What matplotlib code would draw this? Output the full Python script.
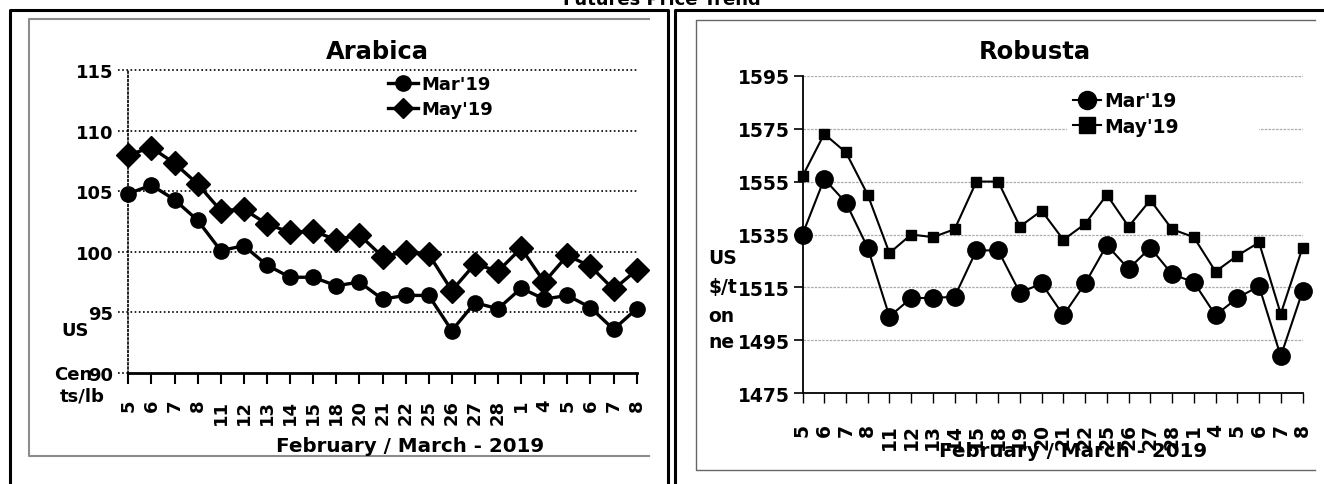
import matplotlib
matplotlib.use("Agg")
import matplotlib.pyplot as plt
from matplotlib.lines import Line2D
import numpy as np

W, H = 1324, 485

arabica_dates = ["5", "6", "7", "8", "11", "12", "13", "14", "15", "18", "20", "21",
                 "22", "25", "26", "27", "28", "1", "4", "5", "6", "7", "8"]
arabica_mar = [104.8, 105.5, 104.3, 102.6, 100.1, 100.5, 98.9, 97.9, 97.9, 97.2, 97.5, 96.1,
               96.4, 96.4, 93.5, 95.8, 95.3, 97.0, 96.1, 96.4, 95.4, 93.6, 95.3]
arabica_may = [108.0, 108.6, 107.3, 105.6, 103.4, 103.5, 102.3, 101.6, 101.7, 101.0, 101.4, 99.6,
               100.0, 99.8, 96.8, 99.0, 98.4, 100.3, 97.5, 99.7, 98.8, 96.9, 98.5]
arabica_yticks = [90, 95, 100, 105, 110, 115]

robusta_dates = ["5", "6", "7", "8", "11", "12", "13", "14", "15", "18", "19", "20",
                 "21", "22", "25", "26", "27", "28", "1", "4", "5", "6", "7", "8"]
robusta_mar = [1535, 1556, 1547, 1530, 1504, 1511, 1511, 1511.5, 1529, 1529, 1513, 1516.5,
               1504.5, 1516.5, 1531, 1522, 1530, 1520, 1517, 1504.5, 1511, 1515.5, 1489, 1513.5]
robusta_may = [1557, 1573, 1566, 1550, 1528, 1535, 1534, 1537, 1555, 1555, 1538, 1544,
               1533, 1539, 1550, 1538, 1548, 1537, 1534, 1521, 1527, 1532, 1505, 1530]
robusta_yticks = [1475, 1495, 1515, 1535, 1555, 1575, 1595]

plt.rcParams.update({
    "font.family": "DejaVu Sans",
    "font.weight": "bold",
})


def fx(x):
    return x / W


def fy(y):
    return 1 - y / H


def fig_line(fig, xs, ys, **kw):
    fig.add_artist(Line2D([fx(x) for x in xs], [fy(y) for y in ys],
                          transform=fig.transFigure, **kw))


fig = plt.figure(figsize=(W / 100, H / 100), dpi=100)

# panel frames
fig_line(fig, [9.5, 9.5, 668, 668], [490, 10.5, 10.5, 490], color="black", lw=2.2)
fig_line(fig, [675, 675, 1330], [490, 10.5, 10.5], color="black", lw=2.2)
fig_line(fig, [649, 29.5, 29.5, 649], [20, 20, 457, 457], color="#8c8c8c", lw=1.5)
fig_line(fig, [1315, 696, 696, 1315], [20.5, 20.5, 471, 471], color="#666666", lw=1.0)

fig.text(0.5, fy(5), "Futures Price Trend", ha="center", va="baseline", fontsize=13)

# ---- Arabica ----
ax1 = fig.add_axes([fx(128.3), fy(374), fx(636.7 - 128.3), (374 - 71) / H])
x1 = np.arange(len(arabica_dates))
ax1.plot(x1, arabica_mar, color="black", lw=2.4, marker="o", ms=11,
         clip_on=False, zorder=3, label="Mar'19")
ax1.plot(x1, arabica_may, color="black", lw=2.4, marker="D", ms=12.5,
         clip_on=False, zorder=3, label="May'19")
ax1.set_xlim(0, len(arabica_dates) - 1)
ax1.set_ylim(90, 115)
ax1.set_yticks(arabica_yticks)
for y in arabica_yticks:
    x_end = 0 if y == 90 else 1
    ax1.axhline(y, xmin=-0.02, xmax=x_end, color="black", lw=1.2,
                ls=(0, (1, 1.5)), clip_on=False, zorder=1)
ax1.set_xticks(x1)
ax1.set_xticklabels(arabica_dates, rotation=90, va="top", ha="center")
ax1.tick_params(axis="x", length=7.9, width=1.5, pad=10.5, labelsize=13)
ax1.tick_params(axis="y", length=0, pad=10.8, labelsize=13)
for s in ("top", "right"):
    ax1.spines[s].set_visible(False)
ax1.spines["left"].set_linestyle((0, (1, 1.5)))
ax1.spines["left"].set_linewidth(1.2)
ax1.spines["bottom"].set_linewidth(2)

leg1 = ax1.legend(loc="upper left", bbox_to_anchor=(fx(388), fy(76)),
                  bbox_transform=fig.transFigure, frameon=False, borderpad=0,
                  borderaxespad=0, handlelength=1.65, handletextpad=0.2,
                  labelspacing=0.4, fontsize=13)
for h, ms in zip(leg1.legend_handles, (11, 10)):
    h.set_markersize(ms)

fig.text(fx(377), fy(52), "Arabica", ha="center", va="center", fontsize=17.5)
fig.text(fx(410), fy(447), "February / March - 2019", ha="center", va="center", fontsize=14.3)
fig.text(fx(75), fy(331), "US", ha="center", va="center", fontsize=13)
fig.text(fx(73), fy(375), "Cen", ha="center", va="center", fontsize=13)
fig.text(fx(82), fy(397), "ts/lb", ha="center", va="center", fontsize=13)

# ---- Robusta ----
ax2 = fig.add_axes([fx(802.5), fy(394.3), fx(500), (394.3 - 76.7) / H])
x2 = np.arange(len(robusta_dates))
ax2.plot(x2, robusta_mar, color="black", lw=1.5, marker="o", ms=12.5,
         clip_on=False, zorder=3, label="Mar'19")
ax2.plot(x2, robusta_may, color="black", lw=1.5, marker="s", ms=6.5,
         clip_on=False, zorder=3, label="May'19")
ax2.set_xlim(0, len(robusta_dates) - 1)
ax2.set_ylim(1475, 1595)
ax2.set_yticks(robusta_yticks)
ax2.grid(axis="y", color="#aaaaaa", lw=0.9, ls=(0, (2, 1)))
ax2.set_axisbelow(True)
ax2.set_xticks(x2)
ax2.set_xticklabels(robusta_dates, rotation=90, va="top", ha="center")
ax2.tick_params(axis="x", length=7.2, width=1, pad=14.4, labelsize=13.5)
ax2.tick_params(axis="y", length=6.5, width=1.2, pad=2.9, labelsize=13.5)
for s in ("top", "right"):
    ax2.spines[s].set_visible(False)
ax2.spines["left"].set_linewidth(1.3)
ax2.spines["bottom"].set_linewidth(1.3)

leg2 = ax2.legend(loc="upper left",
                  bbox_to_anchor=(fx(1067), fy(145), fx(1259 - 1067), 59 / H),
                  bbox_transform=fig.transFigure, mode="expand", frameon=True,
                  fancybox=False, facecolor="white", edgecolor="none", framealpha=1,
                  borderpad=0.33, borderaxespad=0, handlelength=1.5,
                  handletextpad=0.16, labelspacing=0.35, fontsize=13.5)
for h, ms in zip(leg2.legend_handles, (13, 12)):
    h.set_markersize(ms)

fig.text(fx(1035), fy(52), "Robusta", ha="center", va="center", fontsize=17.5)
fig.text(fx(1073), fy(452), "February / March - 2019", ha="center", va="center", fontsize=14.3)
for label, y in (("US", 258), ("$/t", 288), ("on", 316), ("ne", 342)):
    fig.text(fx(708), fy(y), label, ha="left", va="center", fontsize=13.5)

fig.savefig("out.png", dpi=100, facecolor="white")
